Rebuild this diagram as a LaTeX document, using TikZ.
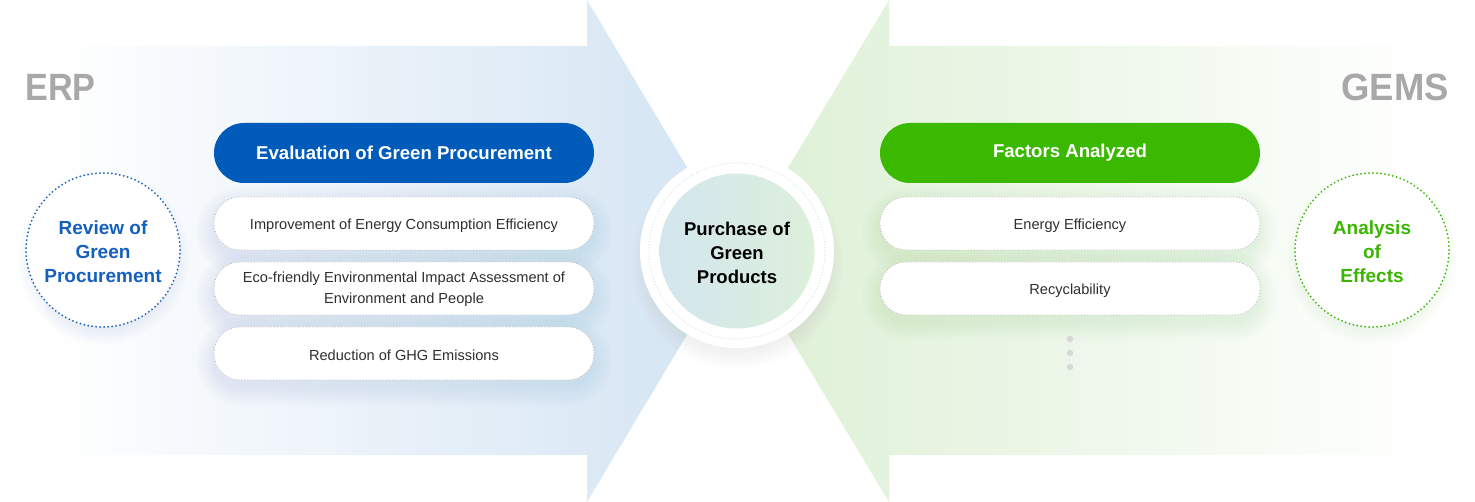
\documentclass[tikz,border=0pt]{standalone}
\usepackage{fontspec}
\setmainfont{Liberation Sans}
\definecolor{erpblue}{HTML}{005BBB}
\definecolor{gemsgreen}{HTML}{3BB800}
\definecolor{bluetext}{HTML}{1560BD}
\definecolor{greentext}{HTML}{3AB500}
\definecolor{labelgray}{HTML}{A8A8A8}
\definecolor{textdark}{HTML}{2F2F2F}
\definecolor{dotgray}{HTML}{BDBDBD}
\definecolor{arrowblue}{HTML}{D3E4F3}
\definecolor{arrowgreen}{HTML}{DDF0D5}
\definecolor{innerblue}{HTML}{D3E6EE}
\definecolor{innergreen}{HTML}{DDF0DB}
\definecolor{ringc}{HTML}{CFE3E8}
\definecolor{shblue}{HTML}{8FB3DD}
\definecolor{shgreen}{HTML}{A8D894}
\definecolor{shgray}{HTML}{B0B0B0}
\definecolor{dotc}{HTML}{D8D8D8}
\newcommand\myPillShadow[3]{%
  \foreach \k in {0,...,9}{%
    \fill[#3, opacity=0.018, rounded corners={26pt+2pt*\k}]
      ({#1-190-2*\k},{#2-26.5-2*\k+8}) rectangle ({#1+190+2*\k},{#2+26.5+2*\k+8});
  }}
\newcommand\myCircShadow[4]{%
  \foreach \k in {0,...,9}{%
    \fill[#4, opacity=0.02] (#1,{#2+8}) circle ({#3+2*\k});
  }}
\begin{document}
\begin{tikzpicture}[x=1pt,y=-1pt,
  pill/.style={rectangle, rounded corners=26pt, minimum width=380pt, minimum height=53pt, inner sep=0pt,
    fill=white, draw=dotgray, line width=0.9pt, dash pattern=on 0.9pt off 2pt},
  pilltext/.style={font=\fontsize{14.6}{21}\selectfont, text=textdark, align=center, inner sep=0pt},
  hdr/.style={rectangle, rounded corners=30pt, minimum width=380pt, minimum height=60pt, inner sep=0pt,
    font=\bfseries\fontsize{18.6}{20}\selectfont, text=white},
  bigcirc/.style={circle, minimum size=154pt, inner sep=0pt, fill=white, line width=2pt,
    dash pattern=on 0pt off 4pt, line cap=round},
  circtext/.style={align=center, inner sep=0pt, font=\bfseries\fontsize{19}{24}\selectfont},
  biglabel/.style={font=\bfseries\fontsize{38}{40}\selectfont, text=labelgray, inner sep=0pt},
  dotnode/.style={circle, fill=dotc, minimum size=6.5pt, inner sep=0pt}
]
\useasboundingbox (0,0) rectangle (1475,502);
% arrows
\shade[left color=white, right color=arrowblue]
  (45,46) -- (587,46) -- (587,0) -- (737,251) -- (587,502) -- (587,455) -- (45,455) -- cycle;
\shade[left color=arrowgreen, right color=white]
  (1430,46) -- (889,46) -- (889,0) -- (738,251) -- (889,502) -- (889,455) -- (1430,455) -- cycle;

% labels
\node[biglabel, anchor=base west] (erp) at (25,101) {\scalebox{0.9}[1]{ERP}};
\node[biglabel, anchor=base east] (gems) at (1449,101) {\scalebox{0.96}[1]{GEMS}};

% shadows
\myCircShadow{103}{250}{68}{shblue}
\myCircShadow{1372}{250}{68}{shgreen}
\myPillShadow{404}{223.5}{shblue}
\myPillShadow{404}{288.5}{shblue}
\myPillShadow{404}{353.5}{shblue}
\myPillShadow{1070}{223.5}{shgreen}
\myPillShadow{1070}{288.5}{shgreen}
\myCircShadow{737}{255}{88}{shgray}

% left side
\node[bigcirc, draw=bluetext] (review) at (103,250) {};
\node[circtext, text=bluetext] (reviewt) at ([yshift=-2pt]review.center) {Review of\\Green\\Procurement};
\node[hdr, fill=erpblue] (evalh) at (404,153) {Evaluation of Green Procurement};
\node[pill] (e1) at (404,223.5) {};
\node[pilltext] (e1t) at ([yshift=-2pt]e1.center) {Improvement of Energy Consumption Efficiency};
\node[pill] (e2) at (404,288.5) {};
\node[pilltext] (e2t) at ([yshift=-1pt]e2.center) {Eco-friendly Environmental Impact Assessment of\\Environment and People};
\node[pill] (e3) at (404,353.5) {};
\node[pilltext] (e3t) at ([yshift=-2pt]e3.center) {Reduction of GHG Emissions};

% right side
\node[bigcirc, draw=greentext] (analysis) at (1372,250) {};
\node[circtext, text=greentext] (analysist) at ([yshift=-2pt]analysis.center) {Analysis\\of\\Effects};
\node[hdr, fill=gemsgreen] (facth) at (1070,153) {Factors Analyzed};
\node[pill] (f1) at (1070,223.5) {};
\node[pilltext] (f1t) at ([yshift=-2pt]f1.center) {Energy Efficiency};
\node[pill] (f2) at (1070,288.5) {};
\node[pilltext] (f2t) at ([yshift=-2pt]f2.center) {Recyclability};
\node[dotnode] (d1) at (1070,339) {};
\node[dotnode] (d2) at (1070,353) {};
\node[dotnode] (d3) at (1070,367) {};

% center
\node[circle, minimum size=194pt, inner sep=0pt, fill=white] (outer) at (737,251) {};
\node[circle, minimum size=176pt, inner sep=0pt, draw=ringc, line width=0.9pt, dash pattern=on 0.9pt off 2pt] (ring) at (737,251) {};
\node[circle, minimum size=155pt, inner sep=0pt, left color=innerblue, right color=innergreen] (purchase) at (737,251) {};
\node[circtext, font=\bfseries\fontsize{18.5}{24}\selectfont, text=black] (purchaset) at ([yshift=-2pt]purchase.center) {Purchase of\\Green\\Products};
\end{tikzpicture}
\end{document}
